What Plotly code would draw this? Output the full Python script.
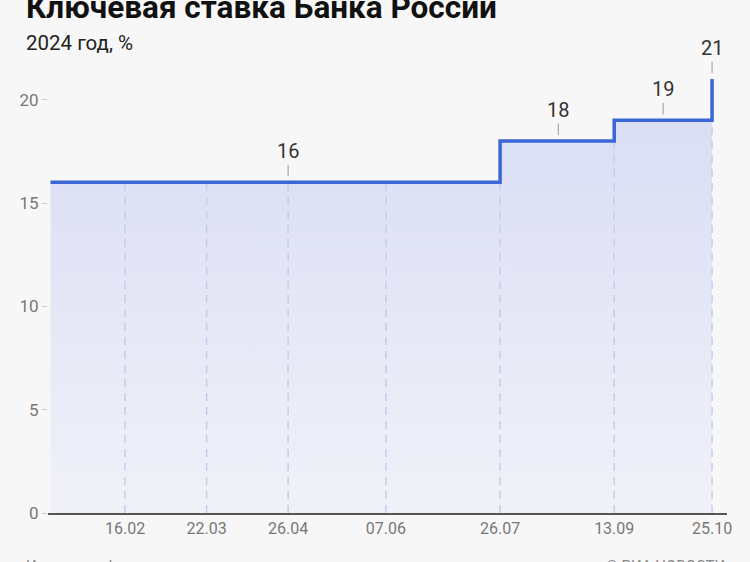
import plotly.graph_objects as go
from datetime import datetime

# ---- data ----
dates = ["2024-01-15", "2024-02-16", "2024-03-22", "2024-04-26", "2024-06-07",
         "2024-07-26", "2024-09-13", "2024-10-25"]
rates = [16, 16, 16, 16, 16, 18, 19, 21]
meeting_dates = ["2024-02-16", "2024-03-22", "2024-04-26", "2024-06-07",
                 "2024-07-26", "2024-09-13", "2024-10-25"]
meeting_levels = [16, 16, 16, 16, 16, 18, 19]
label_dates = ["2024-04-26", "2024-08-20", "2024-10-04", "2024-10-25"]
label_values = [16, 18, 19, 21]

tick_text = [datetime.strptime(d, "%Y-%m-%d").strftime("%d.%m") for d in meeting_dates]

FONT = "Roboto"
BG = "#f7f7f7"
LINE = "#3b67d4"

fig = go.Figure()

# gradient fill
fig.add_trace(go.Scatter(
    x=dates, y=rates, mode="lines", line=dict(width=0, shape="hv"),
    fill="tozeroy",
    fillgradient=dict(type="vertical", start=0, stop=21,
                      colorscale=[[0, "rgba(240,241,248,1)"], [1, "rgba(216,220,244,1)"]]),
    hoverinfo="skip", showlegend=False))

# dashed verticals at meeting dates
vx, vy = [], []
for d, lv in zip(meeting_dates, meeting_levels):
    vx += [d, d, None]
    vy += [0, lv, None]
fig.add_trace(go.Scatter(
    x=vx, y=vy, mode="lines",
    line=dict(color="#c9cbeb", width=1.5, dash="8px,6px"),
    hoverinfo="skip", showlegend=False))

# step line
fig.add_trace(go.Scatter(
    x=dates, y=rates, mode="lines",
    line=dict(color=LINE, width=3.5, shape="hv"),
    showlegend=False))

# value labels with small ticks
for d, v in zip(label_dates, label_values):
    fig.add_annotation(
        x=d, y=v, xref="x", yref="y", text=str(v),
        showarrow=True, arrowhead=0, arrowwidth=1, arrowcolor="#999999",
        ax=0, ay=-31, standoff=6,
        font=dict(family=FONT, size=20, color="#333333"))

# titles
fig.add_annotation(x=-0.035, y=1.088, xref="paper", yref="paper",
                   text="<b>Ключевая ставка Банка России</b>", showarrow=False,
                   xanchor="left", yanchor="middle",
                   font=dict(family=FONT, size=31.5, color="#111111"))
fig.add_annotation(x=-0.035, y=1.011, xref="paper", yref="paper",
                   text="2024 год, %", showarrow=False,
                   xanchor="left", yanchor="middle",
                   font=dict(family=FONT, size=20.5, color="#222222"))
# footer
fig.add_annotation(x=-0.035, y=-0.114, xref="paper", yref="paper",
                   text="Источник: cbr.ru", showarrow=False,
                   xanchor="left", yanchor="middle",
                   font=dict(family=FONT, size=15, color="#888888"))
fig.add_annotation(x=1.0, y=-0.114, xref="paper", yref="paper",
                   text="© РИА НОВОСТИ", showarrow=False,
                   xanchor="right", yanchor="middle",
                   font=dict(family=FONT, size=15, color="#888888"))

fig.update_layout(
    width=750, height=562,
    paper_bgcolor=BG, plot_bgcolor=BG,
    margin=dict(l=48, r=23, t=48, b=49),
    font=dict(family=FONT),
    xaxis=dict(
        type="date",
        range=["2024-01-13 22:00", "2024-10-31 10:00"],
        tickvals=meeting_dates, ticktext=tick_text,
        showgrid=False, zeroline=False,
        showline=True, linecolor="#555555", linewidth=1.5,
        ticks="", tickfont=dict(family=FONT, size=16, color="#777777"),
    ),
    yaxis=dict(
        range=[0, 22.5],
        tickvals=[0, 5, 10, 15, 20],
        showgrid=False, zeroline=False, showline=False,
        ticks="outside", ticklen=5, tickcolor="#cccccc", tickwidth=1,
        tickfont=dict(family=FONT, size=17, color="#777777"),
    ),
)

fig.write_html("out.html",
               config={"displayModeBar": False},
               post_script="document.body.style.margin='0';document.body.style.background='#f7f7f7';")
